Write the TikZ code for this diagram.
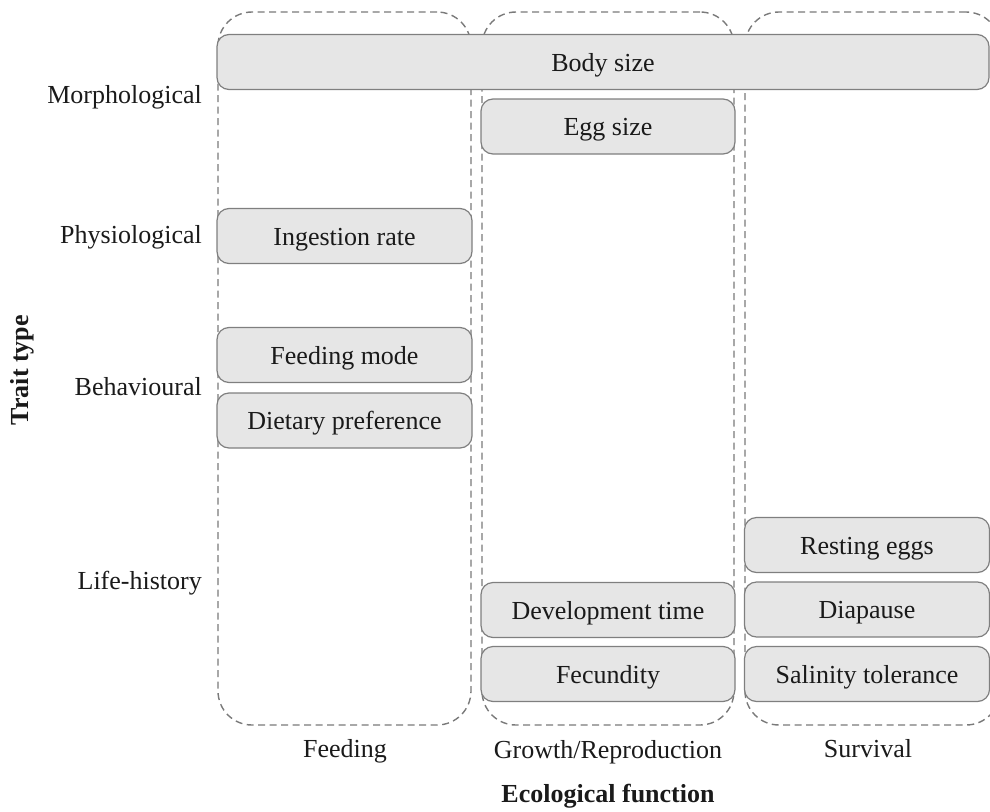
\documentclass[tikz,border=0pt]{standalone}
\usepackage{fontspec}
\setmainfont{Liberation Serif}
\definecolor{boxfill}{HTML}{E6E6E6}
\definecolor{boxline}{HTML}{7F7F7F}
\definecolor{dashline}{HTML}{7A7A7A}
\definecolor{txt}{HTML}{1A1A1A}
\begin{document}
\begin{tikzpicture}[x=1pt,y=-1pt,
  every node/.style={font=\fontsize{26}{31}\selectfont, text=txt},
  trait/.style={draw=boxline, fill=boxfill, line width=1.2pt, rounded corners=12pt,
    inner sep=0pt, minimum height=55pt, text height=20pt, text depth=2pt},
  group/.style={draw=dashline, dashed, dash pattern=on 7pt off 4.5pt, line width=1.4pt,
    rounded corners=34pt, inner sep=0pt, minimum width=253pt, minimum height=713pt},
  rowlab/.style={anchor=east, text height=18pt, text depth=6pt, inner sep=0pt},
  collab/.style={inner sep=0pt, text height=18pt, text depth=6pt}]
\useasboundingbox (0,0) rectangle (990,811);
\clip (0,0) rectangle (990,811);
% dashed groups
\node[group] (gfeed) at (344.5,368.5) {};
\node[group, minimum width=252pt] (ggrow) at (608,368.5) {};
\node[group, minimum width=255pt] (gsurv) at (872.5,368.5) {};
% trait boxes
\node[trait, minimum width=772pt] (body) at (603,62) {Body size};
\node[trait, minimum width=254pt] (egg) at (608,126.5) {Egg size};
\node[trait, minimum width=255pt] (ingest) at (344.5,236) {Ingestion rate};
\node[trait, minimum width=255pt] (fmode) at (344.5,355) {Feeding mode};
\node[trait, minimum width=255pt] (diet) at (344.5,420.5) {Dietary preference};
\node[trait, minimum width=254pt] (dev) at (608,610) {Development time};
\node[trait, minimum width=254pt] (fec) at (608,674) {Fecundity};
\node[trait, minimum width=245pt] (rest) at (867,545) {Resting eggs};
\node[trait, minimum width=245pt] (diap) at (867,609.5) {Diapause};
\node[trait, minimum width=245pt] (salin) at (867,674) {Salinity tolerance};
% row labels
\node[rowlab] (lmorph) at (202,97) {Morphological};
\node[rowlab] (lphys) at (202,237) {Physiological};
\node[rowlab] (lbeh) at (202,389) {Behavioural};
\node[rowlab] (llife) at (202,583) {Life-history};
\node[rotate=90, font=\fontsize{26}{31}\selectfont\bfseries, inner sep=0pt, text height=18pt, text depth=6pt] (ttype) at (22,370) {Trait type};
% column labels
\node[collab] (cfeed) at (345,751) {Feeding};
\node[collab] (cgrow) at (608,752) {Growth/Reproduction};
\node[collab] (csurv) at (868,751) {Survival};
\node[collab, font=\fontsize{26}{31}\selectfont\bfseries] (ecol) at (608,796) {Ecological function};
\end{tikzpicture}
\end{document}
